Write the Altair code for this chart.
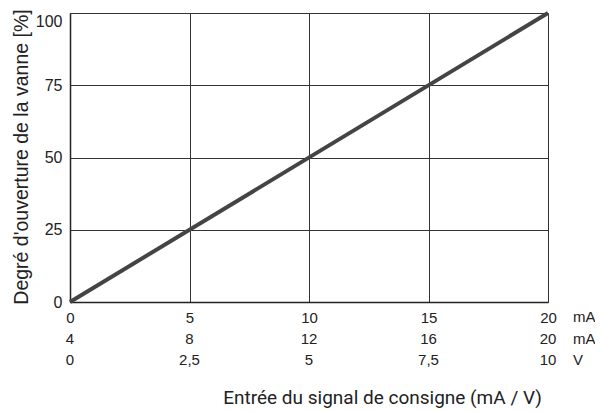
import altair as alt
import pandas as pd

# Data
signal_ma = [0, 20]          # input signal (0..20 mA scale)
opening = [0, 100]           # valve opening [%]
tick_pos = [0, 5, 10, 15, 20]
row2_labels = ["4", "8", "12", "16", "20"]
row3_labels = ["0", "2,5", "5", "7,5", "10"]
unit_labels = ["mA", "mA", "V"]
y_ticks = [0, 25, 50, 75, 100]

line_df = pd.DataFrame({"x": signal_ma, "y": opening})
rows_df = pd.DataFrame({
    "x": tick_pos * 2,
    "label": row2_labels + row3_labels,
    "row": [1] * 5 + [2] * 5,
})
units_df = pd.DataFrame({"x": [20, 20, 20], "label": unit_labels, "row": [0, 1, 2]})

W, H = 478, 289
ROW0 = H + 15   # y pixel of first tick row (center)
ROW_STEP = 21.5

xscale = alt.Scale(domain=[0, 20], nice=False, zero=False)
yscale = alt.Scale(domain=[0, 100], nice=False)

font = "Liberation Sans"
txt = "#222222"

line = alt.Chart(line_df).mark_line(color="#444444", strokeWidth=4, clip=False).encode(
    x=alt.X("x:Q", scale=xscale,
            axis=alt.Axis(values=tick_pos, title="Entrée du signal de consigne (mA / V)",
                          labelFontSize=15, labelFont=font, labelColor=txt,
                          labelPadding=8, tickSize=0, domain=True, domainColor="#222222",
                          domainWidth=1.5, labelFlush=False, labelOverlap=False,
                          grid=True, gridColor="#333333", gridWidth=1,
                          titleFont="Roboto", titleFontSize=19, titleFontWeight="normal",
                          titleColor=txt, titleX=312, titleY=101,
                          titleBaseline="alphabetic", titleAlign="center")),
    y=alt.Y("y:Q", scale=yscale,
            axis=alt.Axis(values=y_ticks, title="Degré d'ouverture de la vanne [%]",
                          labelFontSize=16, labelFont=font, labelColor=txt,
                          labelPadding=8, tickSize=0, domain=True, domainColor="#222222",
                          domainWidth=1.5, labelFlush=False, labelOverlap=False,
                          labelBaseline={"condition": {"test": "datum.value == 100", "value": "top"},
                                         "value": "middle"},
                          grid=True, gridColor="#333333", gridWidth=1,
                          titleFont=font, titleFontSize=19.5, titleFontWeight="normal",
                          titleColor=txt, titleX=-49, titleY=H / 2 - 1,
                          titleBaseline="middle", titleAlign="center", titleAngle=270)),
)

row_scale = alt.Scale(domain=[0, 1], range=[ROW0, ROW0 + ROW_STEP])

rows = alt.Chart(rows_df).mark_text(fontSize=15, font=font, color=txt,
                                    baseline="middle", align="center").encode(
    x=alt.X("x:Q", scale=xscale),
    y=alt.Y("row:Q", scale=row_scale, axis=None),
    text="label:N",
)

units = alt.Chart(units_df).mark_text(fontSize=15, font=font, color=txt,
                                      baseline="middle", align="left", dx=25).encode(
    x=alt.X("x:Q", scale=xscale),
    y=alt.Y("row:Q", scale=row_scale, axis=None),
    text="label:N",
)

chart = alt.layer(line, rows, units).resolve_scale(y="independent").properties(
    width=W, height=H,
    padding={"left": 62, "top": 5, "right": 47, "bottom": 108},
    autosize=alt.AutoSizeParams(type="none"),
).configure_view(stroke="#222222", strokeWidth=1.5).configure(background="white")

chart.save("out.html", embed_options={"renderer": "svg", "actions": False})
